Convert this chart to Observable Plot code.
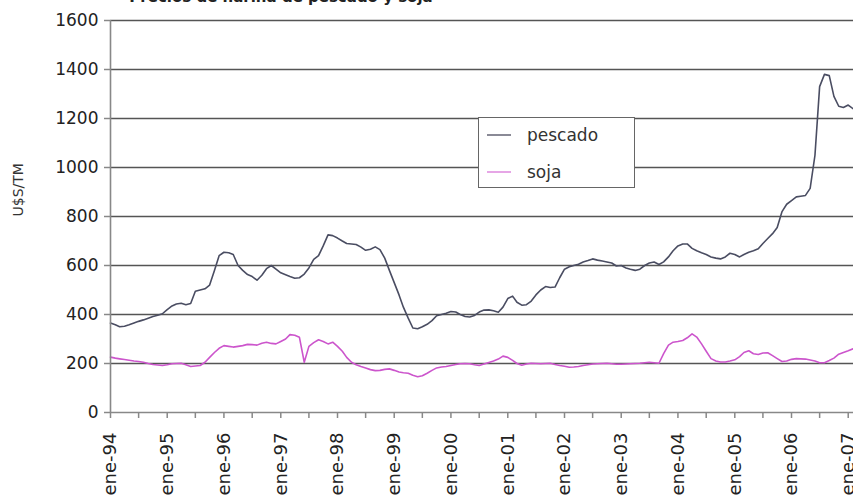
<!DOCTYPE html>
<html>
<head>
<meta charset="utf-8">
<script src="https://cdn.jsdelivr.net/npm/d3@7"></script>
<script src="https://cdn.jsdelivr.net/npm/@observablehq/plot@0.6"></script>
<style>
  html, body { margin: 0; padding: 0; background: #fff; overflow: hidden; }
  #wrap { position: relative; width: 853px; height: 502px; overflow: hidden; font-family: "DejaVu Sans", sans-serif; }
  #title { position: absolute; left: 0; width: 562px; top: -12px; text-align: center; font-weight: bold; font-size: 15px; color: #222; }
  #legend { position: absolute; left: 478px; top: 117px; width: 157px; height: 71px; box-sizing: border-box; border: 1.5px solid #666; background: #fff; font-size: 17px; color: #333; }
  .item { position: absolute; left: 8px; height: 20px; display: flex; align-items: center; }
  .sw { width: 24px; height: 0; border-top: 2px solid; margin-right: 16px; }
</style>
</head>
<body>
<div id="wrap">
  <div id="title">Precios de harina de pescado y soja</div>
  <div id="chart"></div>
  <div id="legend"></div>
</div>
<script>
// Monthly prices, U$S/TM, from ene-94 (Jan 1994) to feb-07
const startYear = 1994;
const pescado = [
  365, 358, 350, 352, 358, 365, 372, 378, 385, 392, 397, 403,
  420, 435, 443, 446, 440, 445, 495, 500, 505, 520, 580, 640,
  654, 652, 645, 600, 580, 563, 555, 540, 560, 587, 600, 585,
  570, 562, 555, 548, 550, 565, 590, 625, 640, 680, 725, 722,
  712, 700, 690, 688, 686, 675, 662, 666, 676, 665, 630, 580,
  530, 480, 430, 385, 345, 342, 350, 360, 375, 395, 400, 405,
  412, 410, 400, 392, 390, 396, 410, 418, 419, 415, 409, 430,
  465, 475, 450, 438, 440, 455, 480, 500, 514, 510, 512, 550,
  585, 595, 600, 605, 614, 620, 627, 622, 618, 614, 610, 598,
  600, 590, 585, 580, 585, 600, 610, 614, 604, 615, 635, 660,
  680, 688, 688, 670, 660, 652, 645, 635, 630, 627, 635, 650,
  645, 635, 645, 654, 660, 668, 690, 710, 730, 755, 820, 850,
  865, 880, 883, 886, 915, 1050, 1330, 1380, 1375, 1290, 1250, 1245,
  1255, 1240
];
const soja = [
  226, 222, 219, 216, 213, 210, 208, 205, 200, 196, 194, 192,
  195, 199, 200, 201, 195, 188, 190, 192, 205, 225, 245, 262,
  273, 270, 267, 270, 273, 278, 277, 275, 283, 287, 282, 280,
  290, 300, 318, 315, 307, 205, 270, 285, 297, 290, 280, 287,
  270, 250, 225, 205, 195, 188, 182, 175, 171, 172, 176, 178,
  172, 165, 162, 160, 152, 146, 150, 160, 172, 182, 186, 188,
  192, 196, 199, 200, 199, 195, 192, 198, 204, 210, 218, 230,
  225, 213, 200, 193, 198, 201, 200, 199, 200, 201, 196, 192,
  189, 185, 186, 188, 192, 195, 198, 199, 200, 201, 199, 197,
  197, 198, 199, 200, 201, 203, 205, 203, 201, 240, 275, 287,
  290, 294, 305, 321, 308, 280, 250, 220, 210, 206, 206, 210,
  215, 228, 245, 252, 240, 237, 243, 244, 232, 220, 208, 210,
  217, 220, 219, 218, 214, 210, 203, 203, 212, 222, 238, 245,
  252, 260
];
const seriesNames = ["pescado", "soja"];
const seriesColors = ["#4a4d62", "#cc55cc"];
const legendColors = ["#8a8a96", "#e6a6e6"];
const yTicks = [0, 200, 400, 600, 800, 1000, 1200, 1400, 1600];
const monthAbbr = "ene";

const dateOf = i => new Date(Date.UTC(startYear, i, 1));
const rows = [];
pescado.forEach((v, i) => rows.push({date: dateOf(i), value: v, serie: "pescado"}));
soja.forEach((v, i) => rows.push({date: dateOf(i), value: v, serie: "soja"}));

const xStart = new Date(Date.UTC(1994, 0, 1));
const xEnd = new Date(Date.UTC(2007, 1, 4));
const yearTicks = d3.utcYear.range(xStart, new Date(Date.UTC(2007, 0, 2)));
const halfTicks = d3.utcMonth.every(6).range(xStart, xEnd);

const chart = Plot.plot({
  width: 853,
  height: 502,
  marginLeft: 110,
  marginRight: 0,
  marginTop: 20,
  marginBottom: 90,
  style: {fontFamily: "DejaVu Sans", fontSize: "17px", color: "#222", background: "#fff", overflow: "visible"},
  x: {type: "utc", domain: [xStart, xEnd]},
  y: {domain: [0, 1600]},
  color: {domain: seriesNames, range: seriesColors},
  marks: [
    Plot.ruleY(yTicks.filter(d => d > 0), {stroke: "#555", strokeWidth: 1.6}),
    Plot.line(rows, {x: "date", y: "value", z: "serie", stroke: "serie", strokeWidth: 1.6, curve: "linear"}),
    Plot.ruleY([0], {stroke: "#888", strokeWidth: 1.6}),
    Plot.ruleX([xStart], {stroke: "#888", strokeWidth: 1.6}),
    Plot.axisY({ticks: yTicks, tickSize: 6, tickPadding: 6, tickFormat: d => String(d), stroke: "#888", strokeWidth: 1.5, label: null, fontSize: 17, style: {letterSpacing: "2px"}}),
    Plot.axisX({ticks: halfTicks, tickSize: 6, tickFormat: () => "", stroke: "#888", strokeWidth: 1.5, label: null}),
    Plot.axisX({ticks: yearTicks, tickSize: 0, tickPadding: 20, tickRotate: -90, label: null, fontSize: 18,
      tickFormat: d => monthAbbr + "-" + String(d.getUTCFullYear()).slice(2)}),
    Plot.text(["U$S/TM"], {frameAnchor: "left", dx: -92, dy: 0, rotate: -90, fontSize: 14, fill: "#333"})
  ]
});
document.getElementById("chart").appendChild(chart);

const legend = document.getElementById("legend");
seriesNames.forEach((name, i) => {
  const item = document.createElement("div");
  item.className = "item";
  item.style.top = (i === 0 ? 7 : 44) + "px";
  const sw = document.createElement("span");
  sw.className = "sw";
  sw.style.borderColor = legendColors[i];
  const t = document.createElement("span");
  t.textContent = name;
  item.appendChild(sw);
  item.appendChild(t);
  legend.appendChild(item);
});
</script>
</body>
</html>
